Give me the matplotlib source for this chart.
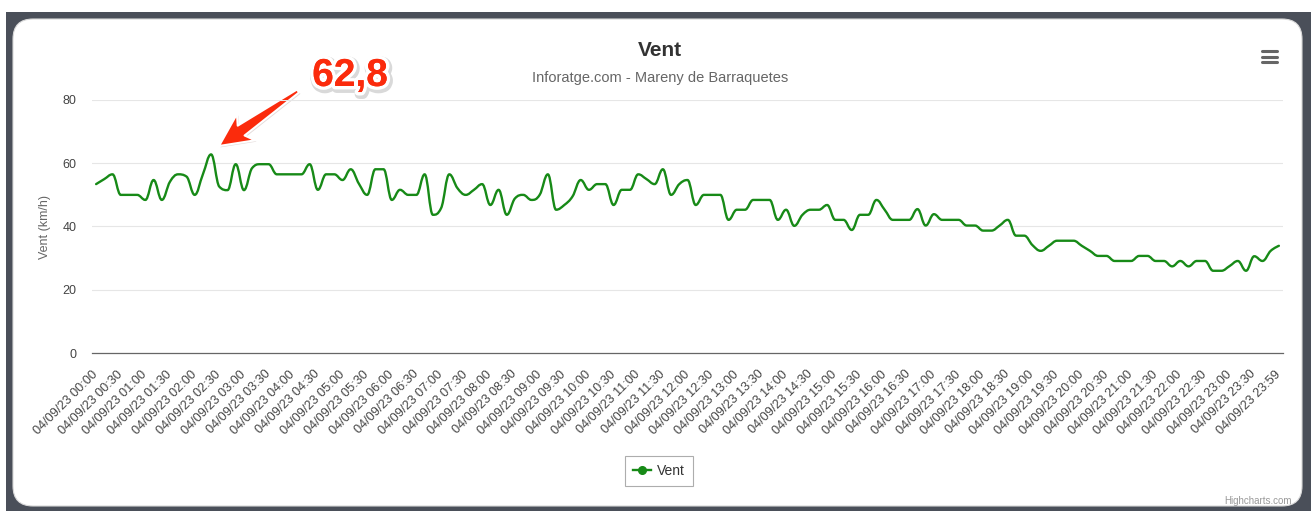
import numpy as np
import matplotlib
matplotlib.use("Agg")
import matplotlib.pyplot as plt
from matplotlib.path import Path
from matplotlib.patches import PathPatch, FancyBboxPatch, Rectangle, Polygon
from matplotlib.lines import Line2D
import matplotlib.patheffects as pe

plt.rcParams['font.family'] = ['Liberation Sans', 'DejaVu Sans']

W, H = 1311, 511

# categories: one every 10 minutes, last one 23:59
categories = ["04/09/23 %02d:%02d" % (m // 60, m % 60) for m in range(0, 1440, 10)]
categories.append("04/09/23 23:59")

# wind (km/h)
wind = [
    53.4, 55.0, 56.5, 50.0, 50.0, 50.0, 48.4, 54.7, 48.4, 54.2,
    56.5, 55.8, 50.0, 56.5, 62.8, 52.6, 51.5, 59.7, 51.5, 58.5,
    59.7, 59.7, 56.5, 56.5, 56.5, 56.5, 59.7, 51.6, 56.5, 56.5,
    54.7, 58.1, 53.5, 50.0, 58.1, 58.1, 48.4, 51.6, 50.0, 50.0,
    56.5, 43.7, 45.8, 56.5, 52.1, 50.0, 51.6, 53.4, 46.8, 51.6,
    43.7, 48.9, 50.0, 48.4, 50.0, 56.5, 45.3, 46.8, 49.5, 54.7,
    51.6, 53.4, 53.4, 46.8, 51.6, 51.6, 56.5, 55.0, 53.4, 58.1,
    50.0, 53.4, 54.7, 46.8, 50.0, 50.0, 50.0, 42.1, 45.3, 45.3,
    48.4, 48.4, 48.4, 42.1, 45.3, 40.2, 43.7, 45.3, 45.3, 46.8,
    42.1, 42.1, 38.9, 43.7, 43.7, 48.4, 45.3, 42.1, 42.1, 42.1,
    45.5, 40.3, 43.9, 42.1, 42.1, 42.1, 40.3, 40.3, 38.7, 38.7,
    40.3, 42.1, 37.1, 37.1, 34.1, 32.3, 33.9, 35.5, 35.5, 35.5,
    33.9, 32.3, 30.7, 30.7, 29.1, 29.1, 29.1, 30.7, 30.7, 29.1,
    29.1, 27.4, 29.1, 27.4, 29.1, 29.1, 26.0, 26.0, 27.5, 29.1,
    26.0, 30.6, 29.1, 32.3, 33.9,
]

tick_idx = list(range(0, len(categories), 3))
tick_labels = [categories[i] for i in tick_idx]
y_ticks = [0, 20, 40, 60, 80]
peak_text = "62,8"

GREEN = "#178a17"
RED = "#fb2b0c"


# highcharts style spline (smoothing 1.5)
def spline_path(xs, ys, smoothing=1.5):
    n = len(xs)
    denom = smoothing + 1
    lc = [(xs[i], ys[i]) for i in range(n)]
    rc = [(xs[i], ys[i]) for i in range(n)]
    for i in range(1, n - 1):
        px, py = xs[i], ys[i]
        lx, ly = xs[i - 1], ys[i - 1]
        nx, ny = xs[i + 1], ys[i + 1]
        lcx = (smoothing * px + lx) / denom
        lcy = (smoothing * py + ly) / denom
        rcx = (smoothing * px + nx) / denom
        rcy = (smoothing * py + ny) / denom
        if rcx != lcx:
            corr = ((rcy - lcy) * (rcx - px)) / (rcx - lcx) + py - rcy
            lcy += corr
            rcy += corr
            if lcy > ly and lcy > py:
                lcy = max(ly, py)
                rcy = 2 * py - lcy
            elif lcy < ly and lcy < py:
                lcy = min(ly, py)
                rcy = 2 * py - lcy
            if rcy > ny and rcy > py:
                rcy = max(ny, py)
                lcy = 2 * py - rcy
            elif rcy < ny and rcy < py:
                rcy = min(ny, py)
                lcy = 2 * py - rcy
        lc[i] = (lcx, lcy)
        rc[i] = (rcx, rcy)
    verts = [(xs[0], ys[0])]
    codes = [Path.MOVETO]
    for i in range(1, n):
        verts += [rc[i - 1], lc[i], (xs[i], ys[i])]
        codes += [Path.CURVE4] * 3
    return Path(verts, codes)


fig = plt.figure(figsize=(W / 100, H / 100), dpi=100)
fig.patch.set_facecolor("white")

# background layer in pixel coordinates
bg = fig.add_axes([0, 0, 1, 1], zorder=0)
bg.set_xlim(0, W)
bg.set_ylim(H, 0)
bg.axis("off")
bg.add_patch(Rectangle((6, 12), W - 6, H - 12, facecolor="#4a4f59", edgecolor="none"))
bg.add_patch(FancyBboxPatch((13, 19), 1302 - 13, 506 - 19,
                            boxstyle="round,pad=0,rounding_size=20",
                            facecolor="white", edgecolor="#d8d8d8", lw=0.8))

# title / subtitle
bg.text(660, 50, "Vent", ha="center", va="center", fontsize=15, fontweight="bold", color="#333333")
bg.text(660, 78, "Inforatge.com - Mareny de Barraquetes", ha="center", va="center",
        fontsize=10.5, color="#666666")
bg.text(45, 227, "Vent (km/h)", ha="center", va="center", rotation=90, fontsize=9, color="#666666")
bg.text(1292, 501, "Highcharts.com", ha="right", va="center", fontsize=7, color="#999999")

# menu icon
for yy in [51.5, 57, 62.5]:
    bg.plot([1262, 1277], [yy, yy], color="#666666", lw=2.2, solid_capstyle="round")

# chart
ax = fig.add_axes([92 / W, 1 - 353 / H, (1283 - 92) / W, (353 - 100) / H], zorder=1)
ax.patch.set_alpha(0)
x = np.arange(len(wind))
ax.add_patch(PathPatch(spline_path(list(x), wind), facecolor="none", edgecolor=GREEN,
                       lw=1.7, capstyle="round", joinstyle="round", zorder=3))
ax.set_xlim(-0.5, len(wind) - 0.5)
ax.set_ylim(0, 80)
ax.set_yticks(y_ticks)
ax.grid(axis="y", color="#e6e6e6", lw=0.8)
ax.set_axisbelow(True)
for s in ["top", "right", "left"]:
    ax.spines[s].set_visible(False)
ax.spines["bottom"].set_color("#666666")
ax.spines["bottom"].set_linewidth(0.9)
ax.tick_params(axis="y", length=0, pad=11, labelsize=9, labelcolor="#444444")
ax.set_xticks(tick_idx)
ax.set_xticklabels(tick_labels, rotation=45, ha="right", va="center", rotation_mode="anchor",
                   fontsize=9.2, color="#444444")
ax.tick_params(axis="x", length=0, pad=14)

# legend
h = Line2D([], [], color=GREEN, lw=1.7, marker="o", ms=5.5)
leg = fig.legend(handles=[h], labels=["Vent"], loc="center", bbox_to_anchor=(659 / W, 1 - 471 / H),
                 fontsize=10, frameon=True, fancybox=False, handlelength=1.25, handletextpad=0.45,
                 borderpad=0.6)
leg.get_frame().set_edgecolor("#999999")
leg.get_frame().set_linewidth(0.8)
for t in leg.get_texts():
    t.set_color("#333333")

# red annotation
tail = np.array([298.0, 91.0])
tip = np.array([219.0, 146.0])
u = (tip - tail) / np.linalg.norm(tip - tail)
nrm = np.array([-u[1], u[0]])
L = np.linalg.norm(tip - tail)
neck = tail + u * (L - 27)
back = tail + u * (L - 33)
arrow_pts = [tail + nrm * 1.8, neck + nrm * 6, back + nrm * 16, tip,
             back - nrm * 16, neck - nrm * 6, tail - nrm * 1.8]
bg.add_patch(Polygon(arrow_pts, closed=True, facecolor=RED, edgecolor="white", lw=1.5,
                     joinstyle="round",
                     path_effects=[pe.SimplePatchShadow(offset=(1, -1), alpha=0.15), pe.Normal()]))
bg.text(350, 76, peak_text, ha="center", va="center", fontsize=28, fontweight="bold", color=RED,
        path_effects=[pe.SimpleLineShadow(offset=(1, -1.5), alpha=0.15, linewidth=7, shadow_color="black"),
                      pe.withStroke(linewidth=5, foreground="white"),
                      pe.Normal()])

fig.savefig("out.png", dpi=100)
